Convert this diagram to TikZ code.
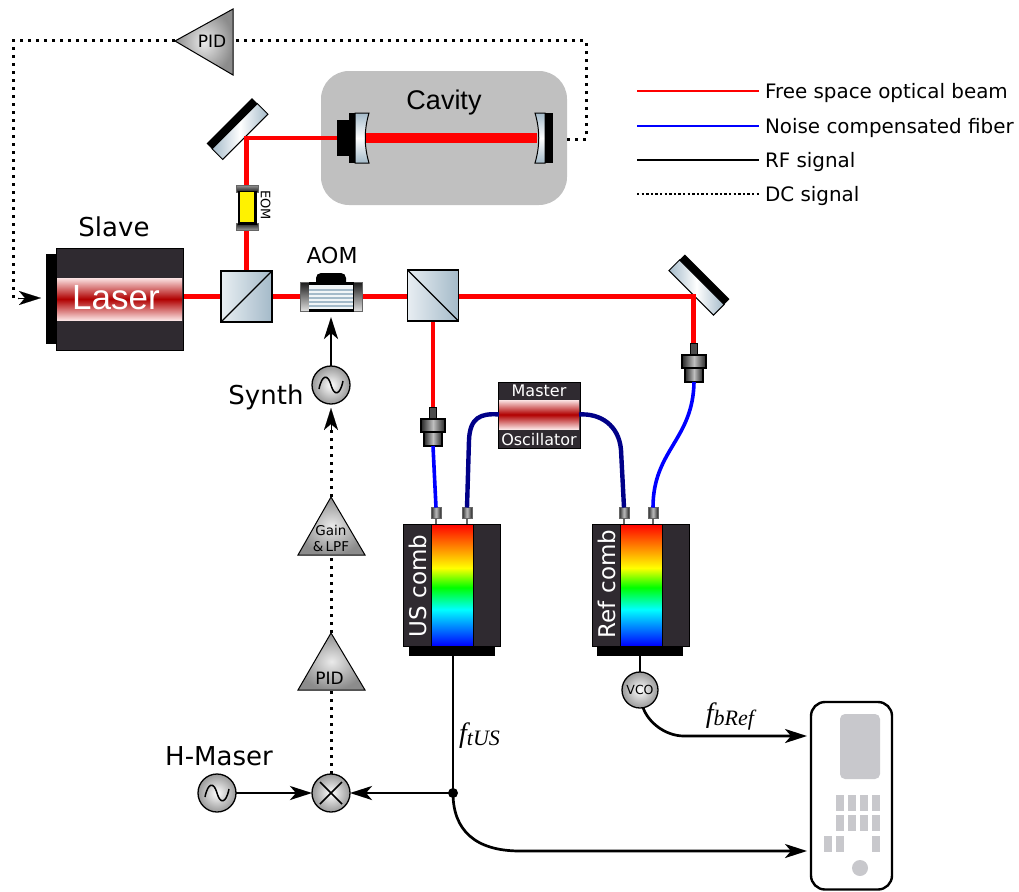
\documentclass[tikz,border=0pt]{standalone}
\usepackage{fontspec}
\setmainfont{DejaVu Sans}
\newfontfamily\arialf{Liberation Sans}
\newfontfamily\mathf{Liberation Serif}
\usetikzlibrary{arrows.meta}
\definecolor{dark}{HTML}{2F2A30}
\definecolor{steel}{HTML}{A4BAC9}
\definecolor{pale}{HTML}{E8EEF2}
\definecolor{keyg}{HTML}{C8C8CC}
\definecolor{cavg}{HTML}{C0C0C0}
\definecolor{redb}{HTML}{B00000}
\definecolor{palered}{HTML}{FBE3E3}
\definecolor{navyf}{HTML}{000088}
\pgfdeclareverticalshading{rainbow}{100bp}{color(0bp)=(blue); color(25bp)=(blue); color(40bp)=(cyan); color(49bp)=(green); color(57bp)=(yellow); color(75bp)=(red); color(100bp)=(red)}
\newcommand{\fs}[1]{\fontsize{#1}{#1}\selectfont}
\tikzset{
  x=1pt,y=-1pt,
  box/.style={draw=black,line width=1pt,inner sep=0pt,outer sep=0pt},
  darkbox/.style={box,fill=dark},
  blackbox/.style={inner sep=0pt,outer sep=0pt,fill=black},
  glass/.style={box,left color=steel,right color=steel,middle color=white},
  cube/.style={box,minimum width=51pt,minimum height=51pt,line width=1.3pt},
  redband/.style={inner sep=0pt,outer sep=0pt,top color=palered,bottom color=palered,middle color=redb},
  grayv/.style={box,left color=black!85,right color=black!85,middle color=white!75!black},
  capd/.style={box,draw=black!60,top color=black!90,bottom color=black!12},
  capt/.style={box,draw=black!60,top color=black!40,bottom color=black!90},
  capb/.style={box,draw=black!60,top color=black!90,bottom color=black!40},
  beam/.style={draw=red,line width=4.4pt},
  fiber/.style={draw=blue,line width=3.6pt},
  mfiber/.style={draw=navyf,line width=4.4pt},
  rf/.style={draw=black,line width=2.7pt},
  dc/.style={draw=black,line width=3pt,dash pattern=on 3pt off 5pt},
  arr/.style={-{Stealth[length=22pt,width=14pt,inset=6pt]}},
  amp/.style={draw=black,line width=1pt,inner color=white!92!black,outer color=black!45},
  circ/.style={circle,draw=black,line width=1.3pt,inner color=white,outer color=black!40,inner sep=0pt,outer sep=0pt},
  lab/.style={inner sep=0pt,outer sep=0pt,text=black},
  wlab/.style={inner sep=0pt,outer sep=0pt,text=white},
  key/.style={fill=keyg,inner sep=0pt,outer sep=0pt,minimum width=8pt,minimum height=16pt},
  sinew/.pic={\draw[line width=1.5pt] (-12,4) .. controls (-9,-11) and (-3,-11) .. (0,0) .. controls (3,11) and (9,11) .. (12,-4);},
}
\newcommand{\collim}[3]{% name, x, y of tip
  \node[fill=black!70,draw=black,line width=.8pt,inner sep=0pt,minimum width=7pt,minimum height=13pt] (#1tip) at (#2,#3+6.5) {};
  \node[grayv,minimum width=18pt,minimum height=14pt,line width=1.2pt] (#1low) at (#2,#3+32) {};
  \node[grayv,minimum width=24pt,minimum height=13pt,line width=1.2pt] (#1up) at (#2,#3+18.5) {};
}
\newcommand{\conn}[2]{% name, x
  \node[fill=black!60,inner sep=0pt,minimum width=2.5pt,minimum height=8pt] (#1s) at (#2,520) {};
  \node[grayv,draw=black!60,line width=.5pt,minimum width=10pt,minimum height=11pt] (#1) at (#2,513) {};
}
\begin{document}
\begin{tikzpicture}
\useasboundingbox (0,0) rectangle (1019,891);
\fill[white] (0,0) rectangle (1019,891);

% Cavity
\node[fill=cavg,rounded corners=28pt,minimum width=246pt,minimum height=134pt,inner sep=0pt] (cavity) at (444,138) {};
\node[lab,font=\arialf\fs{27}] (cavtext) at (444,103) {Cavity};

% Legend
\coordinate (l1a) at (637,91);\coordinate (l1b) at (759,91);
\coordinate (l2a) at (637,126);\coordinate (l2b) at (759,126);
\coordinate (l3a) at (637,160);\coordinate (l3b) at (759,160);
\coordinate (l4a) at (637,194);\coordinate (l4b) at (759,194);
\draw[draw=red,line width=2.8pt] (l1a)--(l1b);
\draw[draw=blue,line width=2.8pt] (l2a)--(l2b);
\draw[draw=black,line width=2.8pt] (l3a)--(l3b);
\draw[draw=black,line width=2.4pt,dash pattern=on 2.4pt off 2.2pt] (l4a)--(l4b);
\node[lab,anchor=west,font=\fs{19.9}] (lt1) at (765,93) {Free space optical beam};
\node[lab,anchor=west,font=\fs{19.9}] (lt2) at (765,128) {Noise compensated fiber};
\node[lab,anchor=west,font=\fs{19.9}] (lt3) at (765,162) {RF signal};
\node[lab,anchor=west,font=\fs{19.9}] (lt4) at (765,196) {DC signal};

% Mirrors
\node[blackbox,rotate=45,minimum width=64pt,minimum height=8pt] (m1b) at (232.2,123.7) {};
\node[glass,rotate=45,minimum width=64pt,minimum height=15pt] (m1) at (240,131.5) {};
\node[blackbox,rotate=-45,minimum width=63pt,minimum height=8pt] (m2b) at (704.3,279.7) {};
\node[glass,rotate=-45,minimum width=63pt,minimum height=15pt] (m2) at (696.5,287.5) {};

% Named beam points
\coordinate (m1pt) at (246,138);
\coordinate (cavin) at (345,138);
\coordinate (m2pt) at (693.5,296.5);
\coordinate (thickA) at (365,138);
\coordinate (thickB) at (537,138);
\coordinate (laserout) at (183,296.5);
\coordinate (bs1c) at (246.5,296.5);
\coordinate (bs2c) at (433,296.5);
\coordinate (bs2stub) at (472,296.5);
\coordinate (colL) at (433,408);
\coordinate (colR) at (693.5,344);

% Beams
\draw[beam] (bs1c)--(246.5,138)--(cavin);
\draw[draw=red,line width=10pt] (thickA)--(thickB);
\draw[beam] (laserout)--(bs2c);
\draw[draw=red,line width=5.6pt] (bs2c)--(bs2stub);
\draw[beam] (bs2stub)--(m2pt)--(colR);
\draw[beam] (bs2c)--(colL);

% Cavity mirrors
\node[blackbox,minimum width=13pt,minimum height=36pt] (cmback) at (343.5,138) {};
\node[blackbox,minimum width=7pt,minimum height=50pt] (cmstrip) at (352.5,138) {};
\draw[line width=1pt,top color=steel,bottom color=steel,middle color=white] (355,113) -- (369,113) .. controls (364,130) and (364,146) .. (369,163) -- (355,163) -- cycle;
\draw[line width=1pt,top color=steel,bottom color=steel,middle color=white] (535,113) -- (545,113) -- (545,163) -- (535,163) .. controls (540,146) and (540,130) .. (535,113) -- cycle;
\node[blackbox,minimum width=8pt,minimum height=50pt] (cmstrip2) at (549,138) {};

% EOM
\node[capt,minimum width=22pt,minimum height=7pt] (eomtop) at (247,188.5) {};
\node[capb,minimum width=22pt,minimum height=7pt] (eombot) at (247,226.5) {};
\node[blackbox,minimum width=19pt,minimum height=34pt] (eomcase) at (247,207.5) {};
\node[fill=yellow,inner sep=0pt,minimum width=14pt,minimum height=30pt] (eom) at (247,207) {};
\node[lab,rotate=-90,font=\fs{13}] (eomt) at (265.5,205) {EOM};

% Laser
\node[blackbox,minimum width=11pt,minimum height=90pt] (lstrip) at (51,299) {};
\node[darkbox,minimum width=127pt,minimum height=102pt] (laser) at (119.5,299) {};
\node[redband,minimum width=125pt,minimum height=42pt] (lband) at (119.5,299) {};
\node[wlab,font=\arialf\fs{35}] (lasert) at (116,298) {Laser};
\node[lab,font=\fs{26}] (slave) at (114,227) {Slave};

% Beam splitters
\node[cube,shading angle=135,left color=pale,right color=steel] (bs1) at (bs1c) {};
\draw[line width=1.3pt] (bs1.south west)--(bs1.north east);
\node[cube,shading angle=135,left color=pale,right color=steel] (bs2) at (433,295.5) {};
\draw[line width=1.3pt] (bs2.north west)--(bs2.south east);

% AOM
\node[blackbox,minimum width=30pt,minimum height=14pt,rounded corners=5pt] (aombump) at (331,280) {};
\node[capd,minimum width=9pt,minimum height=29pt] (aomcl) at (304.5,296.5) {};
\node[capd,minimum width=9pt,minimum height=29pt] (aomcr) at (357.5,296.5) {};
\node[box,fill=black,minimum width=44pt,minimum height=29pt] (aomback) at (331,296.5) {};
\foreach \yy in {287,291,295,299,303}{
  \fill[white!85!steel] (309,\yy) rectangle (353,\yy+2.4);
  \fill[steel] (309,\yy+2.4) rectangle (353,\yy+4);
}
\fill[white!85!steel] (309,285) rectangle (353,287);
\fill[white!85!steel] (309,307) rectangle (353,309);
\node[lab,font=\fs{22}] (aomt) at (332,255) {AOM};

% Fiber connectors at combs
\conn{cA}{436}\conn{cB}{467}\conn{cC}{624}\conn{cD}{653}

% Fibers
\collim{colA}{433}{407}
\collim{colB}{694}{343}
\draw[fiber] (colAlow.south) -- (cA.north);
\draw[fiber] (colBlow.south) .. controls (693,440) and (653,450) .. (cD.north);

% Master oscillator
\node[darkbox,minimum width=82pt,minimum height=66pt] (master) at (539,415) {};
\node[redband,minimum width=80pt,minimum height=29pt] (mband) at (539,414.5) {};
\node[wlab,font=\fs{16}] (mt1) at (539,391) {Master};
\node[wlab,font=\fs{16}] (mt2) at (539,439.5) {Oscillator};
\draw[mfiber] (mband.west) .. controls (480,413) and (470,418) .. (469,440) -- (cB.north);
\draw[mfiber] (mband.east) .. controls (600,413) and (619,425) .. (621,450) -- (cC.north);

% Combs
\node[blackbox,minimum width=86pt,minimum height=10pt] (usbase) at (452,650.5) {};
\node[blackbox,minimum width=86pt,minimum height=10pt] (refbase) at (640,650.5) {};
\node[darkbox,minimum width=97pt,minimum height=122pt] (uscomb) at (452,585) {};
\node[darkbox,minimum width=97pt,minimum height=122pt] (refcomb) at (640.5,585) {};
\node[box,shading=rainbow,minimum width=42pt,minimum height=122pt] (usr) at (452,585) {};
\node[box,shading=rainbow,minimum width=42pt,minimum height=122pt] (refr) at (641,585) {};
\node[wlab,rotate=90,font=\fs{23}] (ust) at (418,586) {US comb};
\node[wlab,rotate=90,font=\fs{23}] (reft) at (607,584) {Ref comb};

% Sources, mixer, VCO
\node[circ,minimum size=38pt] (synth) at (331,385) {};
\pic at (synth) {sinew};
\node[lab,font=\fs{26}] (syntht) at (266,397) {Synth};
\node[circ,minimum size=38pt] (mixer) at (331,793) {};
\draw[line width=1.5pt] (mixer.center)+(-11,-11) -- +(11,11);
\draw[line width=1.5pt] (mixer.center)+(-11,11) -- +(11,-11);
\node[circ,minimum size=38pt] (maser) at (217,793) {};
\pic at (maser) {sinew};
\node[lab,font=\fs{26}] (masert) at (219,756) {H-Maser};
\node[circ,minimum size=36pt,font=\fs{12.5}] (vco) at (640,690) {VCO};

% Amplifiers
\draw[amp] (331,497) coordinate (gaintop) -- (365,555) -- (298,555) -- cycle;
\coordinate (gainbot) at (331,555);
\node[lab,font=\fs{13.5}] (gaint) at (331,530) {Gain};
\node[lab,font=\fs{13.5}] (gaint2) at (331,547) {\&\,LPF};
\draw[amp] (331,633) coordinate (pidtop) -- (365,690) -- (298,690) -- cycle;
\coordinate (pidbot) at (331,690);
\node[lab,font=\fs{17}] (pidt) at (329.5,678) {PID};
\draw[amp] (175,41) coordinate (ptip) -- (233,9) -- (233,75) -- cycle;
\coordinate (pback) at (236,41);
\node[lab,font=\fs{17}] (pidt2) at (212,41) {PID};

% DC signals
\coordinate (cavout) at (567,139);
\coordinate (lasin) at (41,298);
\coordinate (lasarr) at (18,298);
\coordinate (syin) at (331,408);
\coordinate (syin2) at (331,430);
\draw[dc] (cavout) -- (586,139) -- (586,41) -- (pback);
\draw[dc] (ptip) -- (13,41) -- (13,298) -- (lasarr);
\draw[dc] (mixer.north) -- (pidbot);
\draw[dc] (pidtop) -- (gainbot);
\draw[dc] (gaintop) -- (syin2);
\draw[arr,draw=black,line width=.1pt] (lasarr) -- (lasin);
\draw[arr,draw=black,line width=.1pt] (syin2) -- (syin);

% RF signals
\coordinate (aomin) at (331,317);
\draw[rf,arr] (synth.north) -- (aomin);
\draw[rf,arr] (maser.east) -- (mixer.west);
\coordinate (junct) at (453,793);
\draw[rf] (junct |- usbase.south) -- (junct);
\draw[rf,arr] (junct) -- (mixer.east);
\fill[black] (junct) circle (5pt);
\coordinate (inst1) at (807,736);
\coordinate (inst2) at (807,851);
\draw[rf] (refbase.south) -- (vco.north);
\draw[rf,arr] (vco.-80) .. controls (648,722) and (665,736) .. (684,736) -- (inst1);
\draw[rf,arr] (junct) .. controls (453,830) and (475,851) .. (520,851) -- (inst2);
\node[lab,font=\mathf\itshape\fs{28}] (ftus) at (479.5,736) {f\raisebox{-3pt}{\fs{22}tUS}};
\node[lab,font=\mathf\itshape\fs{28}] (fbref) at (730,716) {f\raisebox{-3pt}{\fs{22}bRef}};

% Instrument
\draw[line width=2.4pt,rounded corners=14pt,fill=white] (811,702) rectangle (892,889.5);
\node[fill=keyg,rounded corners=5pt,minimum width=40pt,minimum height=65pt,inner sep=0pt] (screen) at (860,746.5) {};
\foreach \nn/\xx/\yy in {a/840/803,b/852/803,c/864/803,d/876/803,e/840/823,f/852/823,g/864/823,h/876/823,i/828/844,j/840/844,k/876/844}{
  \node[key] (k\nn) at (\xx,\yy) {};
}
\node[circle,fill=keyg,minimum size=16pt,inner sep=0pt] (knob) at (860,868) {};
\end{tikzpicture}
\end{document}
